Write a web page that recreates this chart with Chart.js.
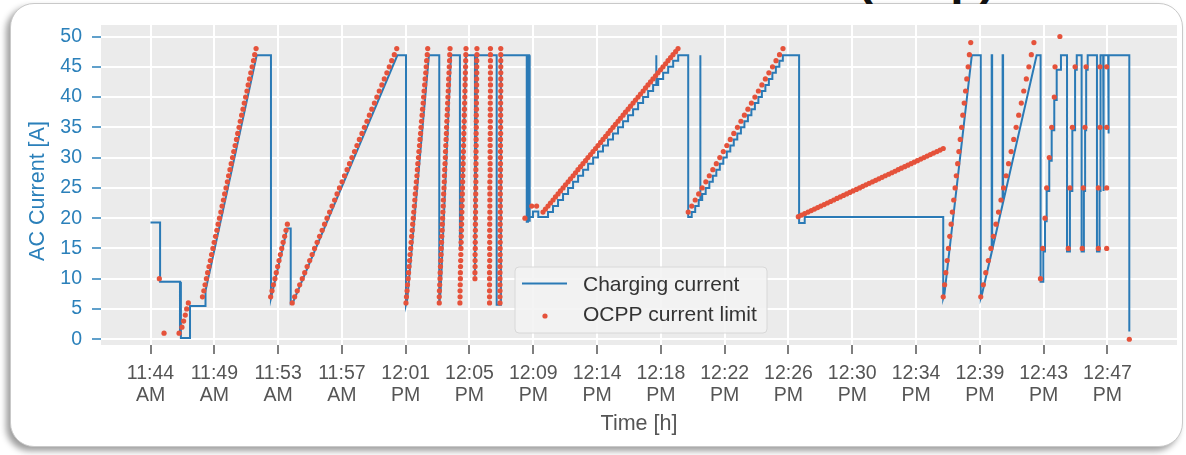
<!DOCTYPE html>
<html>
<head>
<meta charset="utf-8">
<script src="https://cdn.jsdelivr.net/npm/chart.js@4.4.1/dist/chart.umd.min.js"></script>
<style>
  html, body { margin: 0; padding: 0; background: #fff; width: 1186px; height: 455px; overflow: hidden; }
  #card {
    position: absolute; left: 10px; top: 3px; width: 1171px; height: 442px;
    border-radius: 24px; background: #fff; border: 1px solid #c9c9c9;
    box-shadow: -4px 4px 6px rgba(0, 0, 0, 0.38);
  }
  #title {
    position: absolute; left: 857px; top: -46px;
    font: bold 48px "Liberation Sans", Arial, sans-serif; line-height: 48px;
    color: #111; white-space: nowrap;
  }
  canvas { position: absolute; left: 0; top: 0; }
</style>
</head>
<body>
<div id="card"></div>
<div id="title">(Amp)</div>
<canvas id="chart" width="1186" height="455"></canvas>
<script>
// Time axis: minutes after the 11:44 AM tick, one tick every 4.2 minutes
const tickStep = 4.2;
const timeLabels = [
  ['11:44', 'AM'], ['11:49', 'AM'], ['11:53', 'AM'], ['11:57', 'AM'],
  ['12:01', 'PM'], ['12:05', 'PM'], ['12:09', 'PM'], ['12:14', 'PM'],
  ['12:18', 'PM'], ['12:22', 'PM'], ['12:26', 'PM'], ['12:30', 'PM'],
  ['12:34', 'PM'], ['12:39', 'PM'], ['12:43', 'PM'], ['12:47', 'PM']
];
const currentTicks = [0, 5, 10, 15, 20, 25, 30, 35, 40, 45, 50];

// Measured charging current [min, A]
const chargingMorning = [[0,19.3],[0.63,19.3],[0.63,9.5],[1.94,9.5],[1.94,1.0],[1.97,9.5],[2.0,9.5],[2.0,0.2],[2.6,0.2],[2.6,5.5],[3.59,5.5],[3.62,8],[6.99,46.9],[7.93,46.9],[7.93,6.8],[9.0,18.3],[9.23,18.3],[9.23,5.9],[9.4,6.2],[16.25,46.9],[16.82,46.9],[16.82,5.7]];
const chargingBursts = [[16.9,6.5],[18.33,46.9],[19.01,46.9],[19.01,5.7],[19.1,8],[19.78,46.9],[20.37,46.9],[20.37,14.7],[20.45,16],[20.77,46.9],[21.36,46.9],[21.36,10.5],[21.5,46.9],[22.79,46.9],[22.79,5.7],[23.07,5.7],[23.07,46.9],[24.77,46.9],[24.77,19.4],[24.85,19.4],[24.85,46.9],[24.93,46.9],[24.93,19.4],[24.98,19.4],[24.98,20.2],[25.18,20.2],[25.18,21.1],[25.53,21.1],[25.53,20.2]];
const chargingNoon = [[26.17,20.2],[26.17,21],[26.50,21],[26.50,22],[26.83,22],[26.83,23],[27.16,23],[27.16,24],[27.49,24],[27.49,25],[27.82,25],[27.82,26],[28.15,26],[28.15,27],[28.48,27],[28.48,28],[28.81,28],[28.81,29],[29.14,29],[29.14,30],[29.46,30],[29.46,31],[29.79,31],[29.79,32],[30.12,32],[30.12,33],[30.45,33],[30.45,34],[30.78,34],[30.78,35],[31.11,35],[31.11,36],[31.44,36],[31.44,37],[31.77,37],[31.77,38],[32.10,38],[32.10,39],[32.43,39],[32.43,40],[32.76,40],[32.76,41],[33.09,41],[33.09,42],[33.28,42],[33.28,46.9],[33.31,46.9],[33.31,42],[33.42,42],[33.42,43],[33.75,43],[33.75,44],[34.08,44],[34.08,45],[34.41,45],[34.41,46],[34.74,46],[34.74,46.9],[35.40,46.9],[35.40,20.2]];
const chargingAfternoon = [[35.63,20.2],[35.63,21],[35.86,21],[35.86,22],[36.09,22],[36.09,23],[36.18,23],[36.18,46.9],[36.21,46.9],[36.21,23],[36.32,23],[36.32,24],[36.55,24],[36.55,25],[36.79,25],[36.79,26],[37.02,26],[37.02,27],[37.25,27],[37.25,28],[37.48,28],[37.48,29],[37.71,29],[37.71,30],[37.94,30],[37.94,31],[38.17,31],[38.17,32],[38.40,32],[38.40,33],[38.63,33],[38.63,34],[38.87,34],[38.87,35],[39.10,35],[39.10,36],[39.33,36],[39.33,37],[39.56,37],[39.56,38],[39.79,38],[39.79,39],[40.02,39],[40.02,40],[40.25,40],[40.25,41],[40.48,41],[40.48,42],[40.71,42],[40.71,43],[40.94,43],[40.94,44],[41.17,44],[41.17,45],[41.40,45],[41.40,46],[41.63,46],[41.63,46.9],[42.70,46.9],[42.70,19.2],[43.07,19.2],[43.07,20.2],[52.19,20.2],[52.19,6.8]];
const chargingLate = [[52.27,7.5],[54.07,46.9],[54.66,46.9],[54.66,6.8],[54.75,7.5],[55.38,14.4],[55.38,46.9],[55.41,46.9],[55.41,14.7],[56.10,22.3],[56.10,46.9],[56.13,46.9],[56.13,22.6],[58.34,46.9],[58.60,46.9],[58.60,9.5],[58.78,9.5],[58.78,14.5],[58.89,14.5],[58.89,19.5],[59.00,19.5],[59.00,24.5],[59.17,24.5],[59.17,29.5],[59.33,29.5],[59.33,34.5],[59.50,34.5],[59.50,39.5],[59.66,39.5],[59.66,44.5],[59.94,44.5],[59.94,46.9],[60.34,46.9],[60.34,14.5],[60.53,14.5],[60.53,24.5],[60.69,24.5],[60.69,34.5],[60.87,34.5],[60.87,44.5],[60.98,44.5],[60.98,46.9],[61.30,46.9],[61.30,14.5],[61.45,14.5],[61.45,24.5],[61.53,24.5],[61.53,34.5],[61.60,34.5],[61.60,44.5],[61.70,44.5],[61.70,46.9],[62.31,46.9],[62.31,14.5],[62.48,14.5],[62.48,24.5],[62.52,24.5],[62.52,34.5],[62.56,34.5],[62.56,46.9],[62.72,46.9],[62.72,24.5],[62.76,24.5],[62.76,46.9],[63.05,46.9],[63.05,34],[63.09,34],[63.09,46.9],[64.44,46.9],[64.44,1.3]];

// OCPP current limit set-points [min, A]
const ocppStart = [[0.58,10],[0.89,1],[1.88,1],[2.07,2],[2.18,3],[2.29,4],[2.38,5],[2.49,6]];
const ocppRamp1 = [[3.42,7],[3.51,8],[3.59,9],[3.68,10],[3.76,11],[3.85,12],[3.94,13],[4.02,14],[4.11,15],[4.19,16],[4.28,17],[4.37,18],[4.45,19],[4.54,20],[4.63,21],[4.71,22],[4.80,23],[4.88,24],[4.97,25],[5.06,26],[5.14,27],[5.23,28],[5.31,29],[5.40,30],[5.48,31],[5.57,32],[5.66,33],[5.74,34],[5.83,35],[5.91,36],[6.00,37],[6.09,38],[6.17,39],[6.26,40],[6.35,41],[6.43,42],[6.52,43],[6.60,44],[6.69,45],[6.78,46],[6.86,47],[6.95,48]];
const ocppRamp2 = [[7.91,7],[8.00,8],[8.09,9],[8.19,10],[8.28,11],[8.37,12],[8.46,13],[8.55,14],[8.64,15],[8.73,16],[8.83,17],[8.92,18],[9.01,19]];
const ocppRamp3 = [[9.33,6],[9.49,7],[9.66,8],[9.82,9],[9.99,10],[10.15,11],[10.31,12],[10.48,13],[10.64,14],[10.80,15],[10.97,16],[11.13,17],[11.30,18],[11.46,19],[11.62,20],[11.79,21],[11.95,22],[12.12,23],[12.28,24],[12.44,25],[12.61,26],[12.77,27],[12.94,28],[13.10,29],[13.26,30],[13.43,31],[13.59,32],[13.75,33],[13.92,34],[14.08,35],[14.25,36],[14.41,37],[14.57,38],[14.74,39],[14.90,40],[15.06,41],[15.23,42],[15.39,43],[15.56,44],[15.72,45],[15.88,46],[16.05,47],[16.21,48]];
const ocppRamp4 = [[16.82,6],[16.85,7],[16.89,8],[16.92,9],[16.96,10],[16.99,11],[17.02,12],[17.06,13],[17.09,14],[17.13,15],[17.16,16],[17.19,17],[17.23,18],[17.26,19],[17.30,20],[17.33,21],[17.37,22],[17.40,23],[17.43,24],[17.47,25],[17.50,26],[17.54,27],[17.57,28],[17.60,29],[17.64,30],[17.67,31],[17.71,32],[17.74,33],[17.78,34],[17.81,35],[17.84,36],[17.88,37],[17.91,38],[17.95,39],[17.98,40],[18.01,41],[18.05,42],[18.08,43],[18.12,44],[18.15,45],[18.18,46],[18.22,47],[18.25,48]];
const ocppRamp5 = [[19.01,6],[19.01,7],[19.02,8],[19.04,9],[19.06,10],[19.07,11],[19.09,12],[19.11,13],[19.13,14],[19.14,15],[19.16,16],[19.18,17],[19.20,18],[19.21,19],[19.23,20],[19.25,21],[19.27,22],[19.28,23],[19.30,24],[19.32,25],[19.34,26],[19.35,27],[19.37,28],[19.39,29],[19.41,30],[19.42,31],[19.44,32],[19.46,33],[19.48,34],[19.49,35],[19.51,36],[19.53,37],[19.55,38],[19.56,39],[19.58,40],[19.60,41],[19.62,42],[19.63,43],[19.65,44],[19.67,45],[19.69,46],[19.70,47],[19.72,48]];
const ocppRamp6 = [[20.37,6],[20.38,7],[20.38,8],[20.39,9],[20.40,10],[20.40,11],[20.41,12],[20.42,13],[20.43,14],[20.44,15],[20.45,16],[20.46,17],[20.47,18],[20.48,19],[20.49,20],[20.50,21],[20.51,22],[20.52,23],[20.53,24],[20.54,25],[20.55,26],[20.56,27],[20.57,28],[20.58,29],[20.59,30],[20.60,31],[20.61,32],[20.62,33],[20.63,34],[20.64,35],[20.65,36],[20.66,37],[20.67,38],[20.68,39],[20.69,40],[20.70,41],[20.71,42],[20.72,43],[20.73,44],[20.74,45],[20.75,46],[20.76,47],[20.77,48]];
const ocppRamp7 = [[21.36,10],[21.36,11],[21.37,12],[21.37,13],[21.37,14],[21.38,15],[21.38,16],[21.38,17],[21.39,18],[21.39,19],[21.39,20],[21.40,21],[21.40,22],[21.40,23],[21.41,24],[21.41,25],[21.42,26],[21.42,27],[21.42,28],[21.43,29],[21.43,30],[21.43,31],[21.44,32],[21.44,33],[21.44,34],[21.45,35],[21.45,36],[21.45,37],[21.46,38],[21.46,39],[21.46,40],[21.47,41],[21.47,42],[21.47,43],[21.48,44],[21.48,45],[21.48,46],[21.49,47],[21.49,48]];
const ocppRamp8 = [[22.32,6],[22.32,7],[22.32,8],[22.32,9],[22.32,10],[22.32,11],[22.32,12],[22.33,13],[22.33,14],[22.33,15],[22.33,16],[22.33,17],[22.33,18],[22.33,19],[22.34,20],[22.34,21],[22.34,22],[22.34,23],[22.34,24],[22.34,25],[22.34,26],[22.36,27],[22.36,28],[22.36,29],[22.36,30],[22.36,31],[22.36,32],[22.36,33],[22.37,34],[22.37,35],[22.37,36],[22.37,37],[22.37,38],[22.37,39],[22.37,40],[22.38,41],[22.38,42],[22.38,43],[22.38,44],[22.38,45],[22.38,46],[22.38,47],[22.38,48]];
const ocppRamp9 = [[23.01,6],[23.01,7],[23.01,8],[23.01,9],[23.01,10],[23.01,11],[23.01,12],[23.02,13],[23.02,14],[23.02,15],[23.02,16],[23.02,17],[23.02,18],[23.02,19],[23.03,20],[23.03,21],[23.03,22],[23.03,23],[23.03,24],[23.03,25],[23.03,26],[23.04,27],[23.04,28],[23.04,29],[23.04,30],[23.04,31],[23.04,32],[23.04,33],[23.05,34],[23.05,35],[23.05,36],[23.05,37],[23.05,38],[23.05,39],[23.05,40],[23.06,41],[23.06,42],[23.06,43],[23.06,44],[23.06,45],[23.06,46],[23.06,47],[23.06,48]];
const ocppPause = [[24.65,20],[25.10,22],[25.42,22]];
const ocppRamp10 = [[25.84,21],[26.00,21.5],[26.17,22],[26.33,22.5],[26.50,23],[26.66,23.5],[26.83,24],[26.99,24.5],[27.16,25],[27.32,25.5],[27.49,26],[27.65,26.5],[27.82,27],[27.98,27.5],[28.14,28],[28.31,28.5],[28.47,29],[28.64,29.5],[28.80,30],[28.97,30.5],[29.13,31],[29.30,31.5],[29.46,32],[29.63,32.5],[29.79,33],[29.96,33.5],[30.12,34],[30.28,34.5],[30.45,35],[30.61,35.5],[30.78,36],[30.94,36.5],[31.11,37],[31.27,37.5],[31.44,38],[31.60,38.5],[31.77,39],[31.93,39.5],[32.10,40],[32.26,40.5],[32.43,41],[32.59,41.5],[32.75,42],[32.92,42.5],[33.08,43],[33.25,43.5],[33.41,44],[33.58,44.5],[33.74,45],[33.91,45.5],[34.07,46],[34.24,46.5],[34.40,47],[34.57,47.5],[34.73,48]];
const ocppRamp11 = [[35.40,21],[35.63,22],[35.86,23],[36.09,24],[36.32,25],[36.56,26],[36.79,27],[37.02,28],[37.25,29],[37.48,30],[37.71,31],[37.94,32],[38.17,33],[38.40,34],[38.64,35],[38.87,36],[39.10,37],[39.33,38],[39.56,39],[39.79,40],[40.02,41],[40.25,42],[40.48,43],[40.71,44],[40.95,45],[41.18,46],[41.41,47],[41.64,48]];
const ocppRamp12 = [[42.65,20.25],[42.86,20.5],[43.07,20.75],[43.29,21],[43.50,21.25],[43.71,21.5],[43.92,21.75],[44.13,22],[44.35,22.25],[44.56,22.5],[44.77,22.75],[44.98,23],[45.19,23.25],[45.41,23.5],[45.62,23.75],[45.83,24],[46.04,24.25],[46.25,24.5],[46.47,24.75],[46.68,25],[46.89,25.25],[47.10,25.5],[47.31,25.75],[47.53,26],[47.74,26.25],[47.95,26.5],[48.16,26.75],[48.37,27],[48.59,27.25],[48.80,27.5],[49.01,27.75],[49.22,28],[49.43,28.25],[49.65,28.5],[49.86,28.75],[50.07,29],[50.28,29.25],[50.49,29.5],[50.71,29.75],[50.92,30],[51.13,30.25],[51.34,30.5],[51.55,30.75],[51.77,31],[51.98,31.25],[52.19,31.5]];
const ocppRamp13 = [[52.19,7],[52.28,9],[52.36,11],[52.45,13],[52.53,15],[52.62,17],[52.71,19],[52.79,21],[52.88,23],[52.97,25],[53.05,27],[53.14,29],[53.22,31],[53.31,33],[53.40,35],[53.48,37],[53.57,39],[53.66,41],[53.74,43],[53.83,45],[53.91,47],[54.00,49]];
const ocppRamp14 = [[54.66,7],[54.83,9],[54.99,11],[55.16,13],[55.33,15],[55.49,17],[55.66,19],[55.83,21],[55.99,23],[56.16,25],[56.33,27],[56.49,29],[56.66,31],[56.83,33],[56.99,35],[57.16,37],[57.33,39],[57.49,41],[57.66,43],[57.83,45],[57.99,47],[58.16,49]];
const ocppEnd = [[58.59,10],[58.74,15],[58.89,20],[59.00,25],[59.17,30],[59.33,35],[59.50,40],[59.55,45],[59.87,50],[60.42,15],[60.53,25],[60.69,35],[60.87,45],[61.34,15],[61.41,25],[61.52,35],[61.59,45],[62.40,15],[62.40,25],[62.51,35],[62.51,45],[62.95,15],[62.95,25],[62.95,35],[62.95,45],[64.44,0]];

const chargingCurrent = [].concat(chargingMorning, chargingBursts, chargingNoon, chargingAfternoon, chargingLate);
const ocppLimit = [].concat(ocppStart, ocppRamp1, ocppRamp2, ocppRamp3, ocppRamp4, ocppRamp5, ocppRamp6,
  ocppRamp7, ocppRamp8, ocppRamp9, ocppPause, ocppRamp10, ocppRamp11, ocppRamp12, ocppRamp13, ocppRamp14, ocppEnd);

const FONT = '"Liberation Sans", Arial, sans-serif';
const BLUE = '#2a7ab6';
const RED = '#e5523b';
const AXIS_BLUE = '#2b80ba';
const GREY_TEXT = '#555555';
const Y_TITLE = 'AC Current [A]';

// Grey panel behind the data
const plotBackground = {
  id: 'plotBackground',
  beforeDraw(chart) {
    const { ctx, chartArea: a } = chart;
    ctx.save();
    ctx.fillStyle = '#ebebeb';
    ctx.fillRect(a.left, a.top, a.right - a.left, a.bottom - a.top);
    ctx.restore();
  }
};

// Rotated title of the current axis
const currentAxisTitle = {
  id: 'currentAxisTitle',
  afterDraw(chart) {
    const ctx = chart.ctx;
    ctx.save();
    ctx.translate(38, 191);
    ctx.rotate(-Math.PI / 2);
    ctx.fillStyle = AXIS_BLUE;
    ctx.font = '21.5px ' + FONT;
    ctx.textAlign = 'center';
    ctx.textBaseline = 'middle';
    ctx.fillText(Y_TITLE, 0, 0);
    ctx.restore();
  }
};

// Legend box placed inside the plot panel
const insetLegend = {
  id: 'insetLegend',
  afterDraw(chart) {
    const ctx = chart.ctx;
    const line = chart.data.datasets[1];
    const dots = chart.data.datasets[0];
    const bx = 515, by = 267, bw = 252, bh = 66, r = 4;
    ctx.save();
    ctx.beginPath();
    ctx.moveTo(bx + r, by);
    ctx.arcTo(bx + bw, by, bx + bw, by + bh, r);
    ctx.arcTo(bx + bw, by + bh, bx, by + bh, r);
    ctx.arcTo(bx, by + bh, bx, by, r);
    ctx.arcTo(bx, by, bx + bw, by, r);
    ctx.closePath();
    ctx.fillStyle = 'rgba(243,243,243,0.9)';
    ctx.fill();
    ctx.strokeStyle = '#d8d8d8';
    ctx.lineWidth = 1;
    ctx.stroke();

    ctx.strokeStyle = line.borderColor;
    ctx.lineWidth = 2;
    ctx.beginPath();
    ctx.moveTo(522, 283.5);
    ctx.lineTo(567, 283.5);
    ctx.stroke();

    ctx.fillStyle = dots.pointBackgroundColor;
    ctx.beginPath();
    ctx.arc(545, 316, 2.6, 0, Math.PI * 2);
    ctx.fill();

    ctx.fillStyle = '#333333';
    ctx.font = '21px ' + FONT;
    ctx.textBaseline = 'alphabetic';
    ctx.textAlign = 'left';
    ctx.fillText(line.label, 583, 291);
    ctx.fillText(dots.label, 583, 320.5);
    ctx.restore();
  }
};

new Chart(document.getElementById('chart'), {
  type: 'scatter',
  data: {
    datasets: [
      {
        label: 'OCPP current limit',
        data: ocppLimit,
        showLine: false,
        pointRadius: 2.6,
        pointBackgroundColor: RED,
        pointBorderColor: RED,
        pointBorderWidth: 0,
        order: 0
      },
      {
        label: 'Charging current',
        data: chargingCurrent,
        showLine: true,
        borderColor: BLUE,
        borderWidth: 2,
        pointRadius: 0,
        tension: 0,
        order: 1
      }
    ]
  },
  options: {
    responsive: false,
    devicePixelRatio: 1,
    animation: false,
    events: [],
    layout: { padding: { left: 0, right: 9, top: 25, bottom: 0 } },
    plugins: { legend: { display: false }, tooltip: { enabled: false } },
    scales: {
      x: {
        type: 'linear',
        min: -3.26,
        max: 67.58,
        afterBuildTicks(scale) {
          scale.ticks = timeLabels.map((_, i) => ({ value: i * tickStep }));
        },
        afterFit(scale) { scale.height = 110; },
        border: { display: false },
        grid: { color: '#ffffff', lineWidth: 2, drawTicks: true, tickLength: 9, tickColor: GREY_TEXT, tickWidth: 1.5 },
        ticks: {
          autoSkip: false, maxRotation: 0, minRotation: 0, padding: 9,
          color: GREY_TEXT, font: { family: FONT, size: 19.5, lineHeight: 1.12 },
          callback: (value, index) => timeLabels[index]
        },
        title: { display: true, text: 'Time [h]', color: GREY_TEXT, font: { family: FONT, size: 21.5 }, padding: { top: 0, bottom: 18 } }
      },
      y: {
        type: 'linear',
        min: -0.95,
        max: 51.9,
        afterBuildTicks(scale) {
          scale.ticks = currentTicks.map(v => ({ value: v }));
        },
        afterFit(scale) { scale.width = 101; },
        border: { display: false },
        grid: { color: '#ffffff', lineWidth: 2, drawTicks: true, tickLength: 9, tickColor: AXIS_BLUE, tickWidth: 1.5 },
        ticks: {
          padding: 10, color: AXIS_BLUE, font: { family: FONT, size: 19.5 },
          callback: (value) => String(value)
        },
        title: { display: false }
      }
    }
  },
  plugins: [plotBackground, currentAxisTitle, insetLegend]
});
</script>
</body>
</html>
